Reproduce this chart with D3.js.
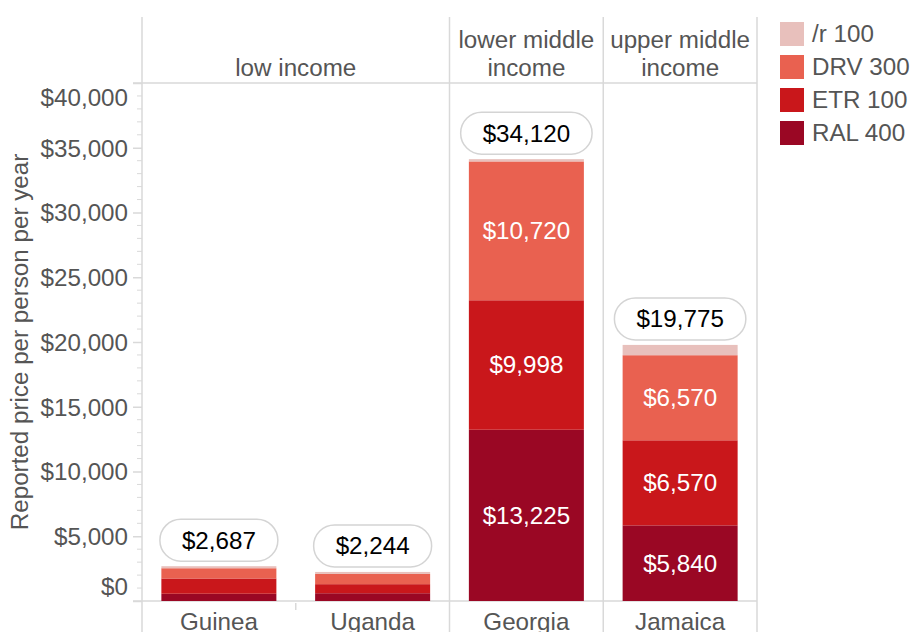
<!DOCTYPE html>
<html>
<head>
<meta charset="utf-8">
<script src="https://cdn.jsdelivr.net/npm/d3@7"></script>
<style>
  body { margin: 0; background: #fff; }
  svg text { font-family: "Liberation Sans", Arial, sans-serif; }
</style>
</head>
<body>
<div id="svg-holder"></div>
<script>
var width = 912;
var height = 632;

// data
var countries = ["Guinea", "Uganda", "Georgia", "Jamaica"];
var groups = ["low income", "lower middle income", "upper middle income"];
var groupOf = ["low income", "low income", "lower middle income", "upper middle income"];
var drugs = ["RAL 400", "ETR 100", "DRV 300", "/r 100"];
var ral = [560, 600, 13225, 5840];
var etr = [1180, 700, 9998, 6570];
var drv = [790, 790, 10720, 6570];
var rtv = [157, 154, 177, 795];
var totals = [2687, 2244, 34120, 19775];
var yTicks = [0, 5000, 10000, 15000, 20000, 25000, 30000, 35000, 40000];

var colors = ["#9a0724", "#c9171b", "#e96150", "#e8c0bc"];
var grid = "#d9d9d9";
var textGray = "#555";
var fs = 24.2;

var plotLeft = 142, plotRight = 757, plotTop = 83, plotBottom = 601, headTop = 17;

var svg = d3.select('#svg-holder').append('svg')
            .attr("width", width)
            .attr("height", height);

var y = d3.scaleLinear().domain([0, 40000]).range([plotBottom, plotTop]);
var x = d3.scaleBand().domain(countries).range([plotLeft, plotRight])
          .paddingInner(0.252).paddingOuter(0.126);
var step = x.step();

var fmt = d3.format("$,");

// stacked data
var rows = countries.map(function(c, i) {
    return { country: c, "RAL 400": ral[i], "ETR 100": etr[i], "DRV 300": drv[i], "/r 100": rtv[i], total: totals[i] };
});
var series = d3.stack().keys(drugs)(rows);

// group boundaries
var bounds = [plotLeft];
groups.forEach(function(g) {
    var last = countries.filter(function(c, i) { return groupOf[i] === g; }).pop();
    bounds.push(x(last) + x.bandwidth() + (step - x.bandwidth()) / 2);
});

// vertical separators (header + plot + bottom)
svg.selectAll('.sep').data(bounds).enter().append('line')
    .attr('x1', function(d) { return d; })
    .attr('x2', function(d) { return d; })
    .attr('y1', headTop).attr('y2', height)
    .attr('stroke', grid).attr('stroke-width', 1.5);

// small tick between Guinea and Uganda
svg.append('line')
    .attr('x1', x("Uganda") - (step - x.bandwidth()) / 2)
    .attr('x2', x("Uganda") - (step - x.bandwidth()) / 2)
    .attr('y1', plotBottom + 2).attr('y2', plotBottom + 9)
    .attr('stroke', grid).attr('stroke-width', 1.5);

// header line and baseline
svg.append('line').attr('x1', 133).attr('x2', plotRight).attr('y1', plotTop).attr('y2', plotTop)
    .attr('stroke', grid).attr('stroke-width', 1.5);
svg.append('line').attr('x1', 133).attr('x2', plotRight).attr('y1', plotBottom).attr('y2', plotBottom)
    .attr('stroke', grid).attr('stroke-width', 1.5);

// header labels
groups.forEach(function(g, i) {
    var cx = (bounds[i] + bounds[i + 1]) / 2;
    var lines = g === "low income" ? [g] : [g.replace(" income", ""), "income"];
    var t = svg.append('text')
        .attr('x', cx).attr('text-anchor', 'middle')
        .attr('font-size', fs).attr('fill', textGray);
    lines.forEach(function(l, j) {
        t.append('tspan').attr('x', cx)
            .attr('y', 76 - (lines.length - 1 - j) * 28)
            .text(l);
    });
});

// y axis
var minor = d3.range(0, 40001, 1000).filter(function(d) { return d % 5000 !== 0; });
svg.selectAll('.minor').data(minor).enter().append('line')
    .attr('x1', 137).attr('x2', plotLeft)
    .attr('y1', function(d) { return y(d); })
    .attr('y2', function(d) { return y(d); })
    .attr('stroke', grid).attr('stroke-width', 1);

var yAxis = svg.append('g')
    .attr('transform', 'translate(' + plotLeft + ',0)')
    .call(d3.axisLeft(y).tickValues(yTicks).tickFormat(fmt).tickSize(9).tickPadding(5));
yAxis.select('.domain').remove();
yAxis.selectAll('.tick line').attr('stroke', grid).attr('stroke-width', 1.5);
yAxis.selectAll('.tick text')
    .attr('font-size', fs).attr('fill', textGray)
    .attr('font-family', '"Liberation Sans", Arial, sans-serif')
    .attr('dy', function(d) { return d === 40000 ? '0.95em' : d === 0 ? '-0.25em' : '0.35em'; });

svg.append('text')
    .attr('transform', 'translate(28,' + ((plotTop + plotBottom) / 2) + ') rotate(-90)')
    .attr('text-anchor', 'middle')
    .attr('font-size', fs).attr('fill', textGray)
    .text("Reported price per person per year");

// bars
var layer = svg.selectAll('.layer').data(series).enter().append('g')
    .attr('fill', function(d, i) { return colors[i]; });

layer.selectAll('rect').data(function(d) { return d; }).enter().append('rect')
    .attr('x', function(d) { return x(d.data.country); })
    .attr('y', function(d) { return y(d[1]); })
    .attr('width', x.bandwidth())
    .attr('height', function(d) { return y(d[0]) - y(d[1]); });

layer.selectAll('text').data(function(d) { return d; }).enter()
    .filter(function(d) { return y(d[0]) - y(d[1]) > 40; })
    .append('text')
    .attr('x', function(d) { return x(d.data.country) + x.bandwidth() / 2; })
    .attr('y', function(d) { return (y(d[0]) + y(d[1])) / 2; })
    .attr('dy', '0.35em')
    .attr('text-anchor', 'middle')
    .attr('font-size', fs).attr('fill', '#fff')
    .text(function(d) { return fmt(d[1] - d[0]); });

// total pills
var pill = svg.selectAll('.pill').data(rows).enter().append('g')
    .attr('transform', function(d) {
        return 'translate(' + (x(d.country) + x.bandwidth() / 2) + ',' + (y(d.total) - 26) + ')';
    });
pill.append('text')
    .attr('text-anchor', 'middle').attr('dy', '0.35em')
    .attr('font-size', fs).attr('fill', '#000')
    .text(function(d) { return fmt(d.total); });
pill.insert('rect', 'text')
    .each(function() {
        var w = this.parentNode.querySelector('text').getComputedTextLength() + 44;
        d3.select(this).attr('x', -w / 2).attr('width', w);
    })
    .attr('y', -21).attr('height', 42).attr('rx', 21)
    .attr('fill', '#fff').attr('stroke', '#d4d4d4').attr('stroke-width', 1.5);

// x labels
svg.selectAll('.xl').data(countries).enter().append('text')
    .attr('x', function(d) { return x(d) + x.bandwidth() / 2; })
    .attr('y', 630)
    .attr('text-anchor', 'middle')
    .attr('font-size', fs).attr('fill', textGray)
    .text(function(d) { return d; });

// legend
var legend = svg.selectAll('.leg').data(drugs.slice().reverse()).enter().append('g')
    .attr('transform', function(d, i) { return 'translate(780,' + (22 + i * 33) + ')'; });
legend.append('rect').attr('width', 24).attr('height', 24)
    .attr('fill', function(d) { return colors[drugs.indexOf(d)]; });
legend.append('text').attr('x', 32).attr('y', 12).attr('dy', '0.35em')
    .attr('font-size', fs).attr('fill', textGray)
    .text(function(d) { return d; });
</script>
</body>
</html>
